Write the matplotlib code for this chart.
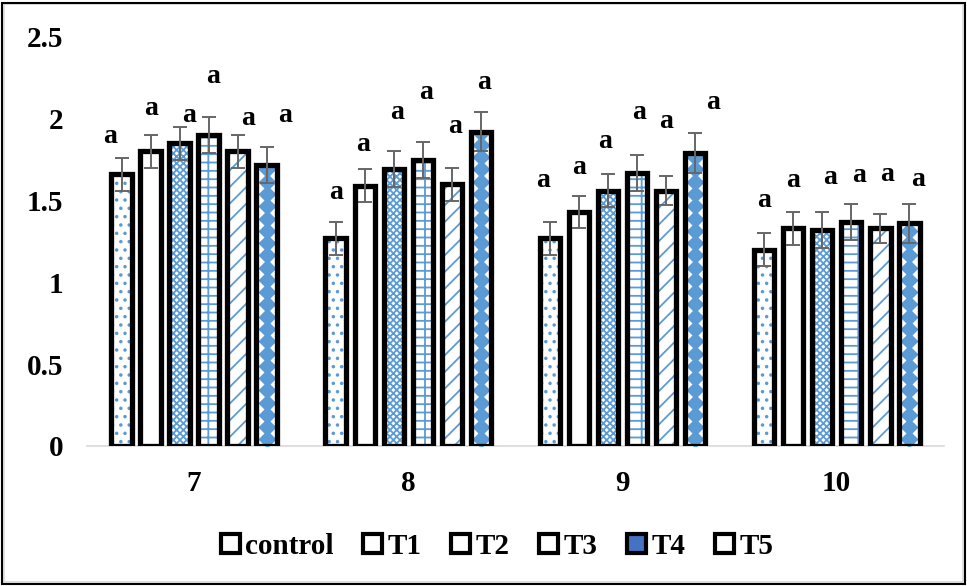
import numpy as np
import matplotlib
matplotlib.use("Agg")
import matplotlib.pyplot as plt
from matplotlib.patches import Patch, Rectangle

plt.rcParams['font.family'] = ['Liberation Serif', 'DejaVu Serif']
plt.rcParams['font.weight'] = 'bold'
plt.rcParams['hatch.linewidth'] = 1.3

days = ['7', '8', '9', '10']
series = ['control', 'T1', 'T2', 'T3', 'T4', 'T5']

control = [1.66, 1.27, 1.27, 1.20]
t1 = [1.80, 1.59, 1.43, 1.33]
t2 = [1.85, 1.69, 1.56, 1.32]
t3 = [1.90, 1.75, 1.67, 1.37]
t4 = [1.80, 1.60, 1.56, 1.33]
t5 = [1.72, 1.92, 1.79, 1.36]

err_control = [0.10, 0.10, 0.10, 0.10]
err_t1 = [0.10, 0.10, 0.10, 0.10]
err_t2 = [0.10, 0.11, 0.10, 0.11]
err_t3 = [0.11, 0.11, 0.11, 0.11]
err_t4 = [0.10, 0.10, 0.09, 0.09]
err_t5 = [0.11, 0.12, 0.12, 0.12]

letters = ['a', 'a', 'a', 'a', 'a', 'a']

values = [control, t1, t2, t3, t4, t5]
errors = [err_control, err_t1, err_t2, err_t3, err_t4, err_t5]

# height of each significance letter (per series, per day) and a small sideways nudge
letter_y = [[1.89, 1.55, 1.62, 1.50],
            [2.06, 1.84, 1.70, 1.62],
            [2.02, 2.04, 1.86, 1.64],
            [2.26, 2.16, 2.04, 1.65],
            [2.00, 1.95, 1.98, 1.66],
            [2.02, 2.22, 2.10, 1.63]]
letter_dx = [[-0.055, 0.0, -0.03, 0.0],
             [0.0, -0.01, 0.0, 0.0],
             [0.045, 0.015, -0.015, 0.035],
             [0.02, 0.015, 0.01, 0.035],
             [0.05, 0.015, 0.0, 0.03],
             [0.085, 0.015, 0.085, 0.04]]

blue = '#5B9BD5'
hatches = ['..', '', 'xxxxx', '--|', '//', None]

fig = plt.figure(figsize=(9.67, 5.86), dpi=100)
ax = fig.add_axes([0.090, 0.239, 0.886, 0.698])

x = np.arange(len(days))
step = 0.1355
width = 0.096

for i, name in enumerate(series):
    xs = x + (i - 2.5) * step
    fills = ax.bar(xs, values[i], width, color='white', edgecolor=blue,
                   hatch=hatches[i], linewidth=0, zorder=2)
    if name == 'T5':
        # column of blue diamonds inside each bar
        for rect, h in zip(fills, values[i]):
            ys = np.arange(0.04, h, 0.075)
            dots = ax.scatter(np.full(len(ys), rect.get_x() + width / 2), ys,
                              marker='D', s=85, color=blue, linewidths=0, zorder=3)
            dots.set_clip_path(rect)
    ax.bar(xs, values[i], width, fill=False, edgecolor='black',
           linewidth=3.8, zorder=4)
    ax.errorbar(xs, values[i], yerr=errors[i], fmt='none', ecolor='#666666',
                elinewidth=1.4, capsize=5, capthick=1.4, zorder=5)
    for j in range(len(days)):
        ax.text(xs[j] + letter_dx[i][j], letter_y[i][j], letters[i],
                ha='center', va='center', fontsize=20, fontweight='bold')

ax.set_xlim(-0.5, 3.5)
ax.set_ylim(0, 2.5)
ax.set_yticks([0, 0.5, 1, 1.5, 2, 2.5])
ax.set_yticklabels(['0', '0.5', '1', '1.5', '2', '2.5'])
ax.set_xticks(x)
ax.set_xticklabels(days)
ax.tick_params(axis='both', length=0, labelsize=21)
ax.tick_params(axis='y', pad=17)
ax.tick_params(axis='x', pad=17)
for side in ['top', 'right', 'left']:
    ax.spines[side].set_visible(False)
ax.spines['bottom'].set_color('#d9d9d9')
ax.spines['bottom'].set_linewidth(1.2)

handles = []
for i, name in enumerate(series):
    if name == 'T4':
        handles.append(Patch(facecolor='#4472C4', edgecolor='black', linewidth=3))
    else:
        handles.append(Patch(facecolor='white', edgecolor='black', linewidth=3))
fig.legend(handles, series, loc='center', bbox_to_anchor=(0.514, 0.068),
           ncol=6, frameon=False, fontsize=21, handlelength=0.65, handleheight=0.65,
           handletextpad=0.2, columnspacing=1.0)

# chart frame
fig.patches.append(Rectangle((0.004, 0.006), 0.992, 0.987, transform=fig.transFigure,
                             fill=False, edgecolor='#d9d9d9', linewidth=1.2))
fig.patches.append(Rectangle((0.002, 0.003), 0.996, 0.992, transform=fig.transFigure,
                             fill=False, edgecolor='black', linewidth=1.5))

fig.savefig('out.png', dpi=100)
